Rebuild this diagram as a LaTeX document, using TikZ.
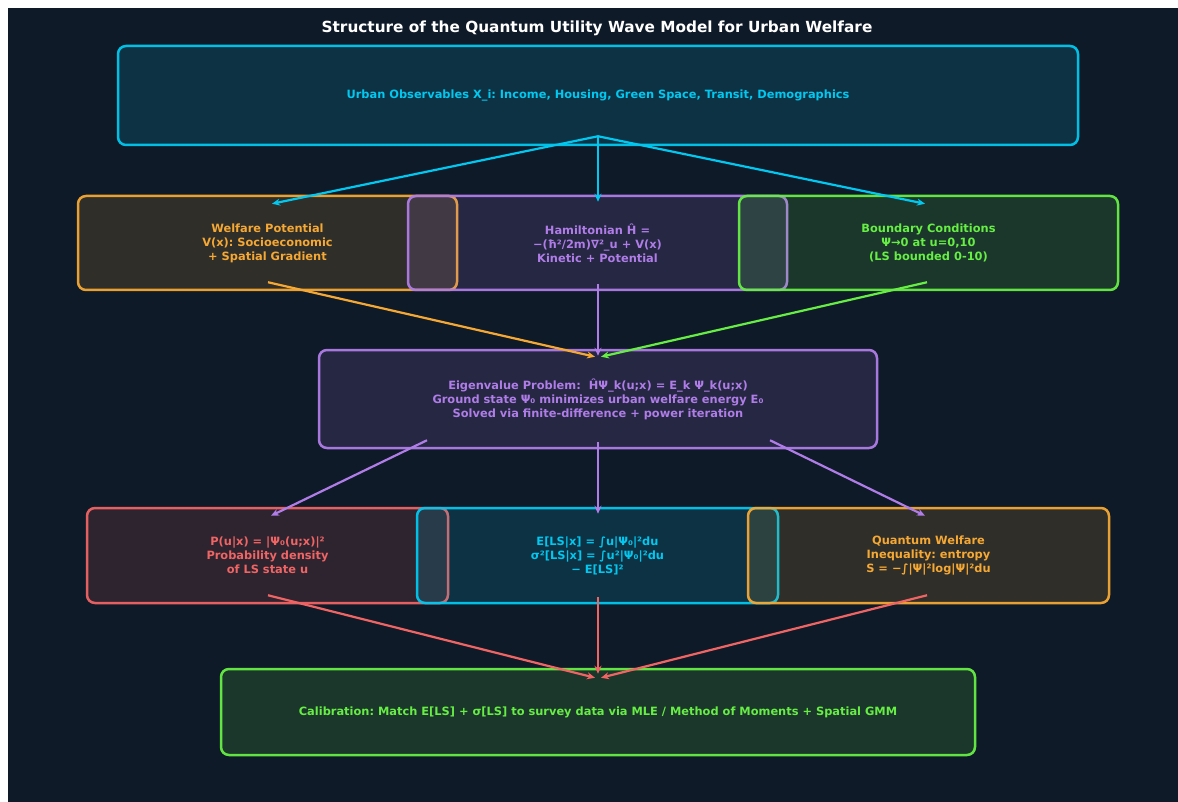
\documentclass[tikz,border=0pt]{standalone}
\usepackage{fontspec}
\setmainfont{DejaVu Sans}
\frenchspacing
\usetikzlibrary{arrows.meta,calc}
\definecolor{bg}{HTML}{0F1A28}
\definecolor{ccyan}{HTML}{00C8F0}
\definecolor{corange}{HTML}{F5A834}
\definecolor{cpurple}{HTML}{B07DE8}
\definecolor{cgreen}{HTML}{66EE44}
\definecolor{cred}{HTML}{F06464}
\tikzset{
  box/.style={draw=#1, text=#1, fill=#1, fill opacity=0.14, text opacity=1, draw opacity=0.95,
    line width=2.5pt, rounded corners=8pt, align=center, inner sep=0pt,
    font=\fontsize{11.4}{14}\selectfont\bfseries},
  conn/.style={draw=#1, line width=2.2pt, -{Stealth[length=8pt,width=7pt]}},
}
\begin{document}
\begin{tikzpicture}[x=1pt,y=-1pt]
\useasboundingbox (0,0) rectangle (1178,802);
\fill[white] (0,0) rectangle (1178,802);
\fill[bg] (8,8) rectangle (1178,802);
\node[text=white, font=\fontsize{15.3}{17}\selectfont\bfseries] (title) at (597,28) {Structure of the Quantum Utility Wave Model for Urban Welfare};

\node[box=ccyan, minimum width=960pt, minimum height=99pt] (obs) at (598,95.5)
  {Urban Observables X\_i: Income, Housing, Green Space, Transit, Demographics};

\node[box=corange, minimum width=379pt, minimum height=94pt] (pot) at (267.5,243)
  {Welfare Potential\\V(x): Socioeconomic\\+ Spatial Gradient};
\node[box=cpurple, minimum width=379pt, minimum height=94pt] (ham) at (597.5,243)
  {Hamiltonian Ĥ =\\−(ħ²/2m)∇²\_u + V(x)\\Kinetic + Potential};
\node[box=cgreen, minimum width=379pt, minimum height=94pt] (bnd) at (928.5,243)
  {Boundary Conditions\\Ψ→0 at u=0,10\\(LS bounded 0-10)};

\node[box=cpurple, minimum width=558pt, minimum height=98pt] (eig) at (598,399)
  {Eigenvalue Problem:\ \ ĤΨ\_k(u;x) = E\_k Ψ\_k(u;x)\\Ground state Ψ₀ minimizes urban welfare energy E₀\\Solved via finite-difference + power iteration};

\node[box=cred, minimum width=361pt, minimum height=95pt] (prob) at (267.5,555.5)
  {P(u|x) = |Ψ₀(u;x)|²\\Probability density\\of LS state u};
\node[box=ccyan, minimum width=361pt, minimum height=95pt] (mom) at (597.5,555.5)
  {E[LS|x] = ∫u|Ψ₀|²du\\σ²[LS|x] = ∫u²|Ψ₀|²du\\− E[LS]²};
\node[box=corange, minimum width=361pt, minimum height=95pt] (ent) at (928.5,555.5)
  {Quantum Welfare\\Inequality: entropy\\S = −∫|Ψ|²log|Ψ|²du};

\node[box=cgreen, minimum width=754pt, minimum height=86pt] (cal) at (598,712)
  {Calibration: Match E[LS] + σ[LS] to survey data via MLE / Method of Moments + Spatial GMM};

% arrows row 1 -> 2
\coordinate (obsh) at ($(obs.south)+(0,-10)$);
\draw[conn=ccyan] (obsh) -- ($(pot.north)+(4.5,9)$);
\draw[conn=ccyan] (obsh) -- ($(ham.north)+(0.5,7)$);
\draw[conn=ccyan] (obsh) -- ($(bnd.north)+(-3.5,9)$);
% row 2 -> 3
\draw[conn=corange] ($(pot.south)+(0.5,-9)$) -- ($(eig.north)+(-3,8)$);
\draw[conn=cpurple] ($(ham.south)+(0.5,-7)$) -- ($(eig.north)+(0,7)$);
\draw[conn=cgreen] ($(bnd.south)+(-1.5,-9)$) -- ($(eig.north)+(3,8)$);
% row 3 -> 4
\draw[conn=cpurple] ($(eig.south)+(-171,-9)$) -- ($(prob.north)+(3.5,9)$);
\draw[conn=cpurple] ($(eig.south)+(0,-7)$) -- ($(mom.north)+(0.5,7)$);
\draw[conn=cpurple] ($(eig.south)+(172,-9)$) -- ($(ent.north)+(-3.5,9)$);
% row 4 -> 5
\draw[conn=cred] ($(prob.south)+(0.5,-9)$) -- ($(cal.north)+(-3,10)$);
\draw[conn=cred] ($(mom.south)+(0.5,-7)$) -- ($(cal.north)+(0,6)$);
\draw[conn=cred] ($(ent.south)+(-1.5,-9)$) -- ($(cal.north)+(3,10)$);
\end{tikzpicture}
\end{document}
